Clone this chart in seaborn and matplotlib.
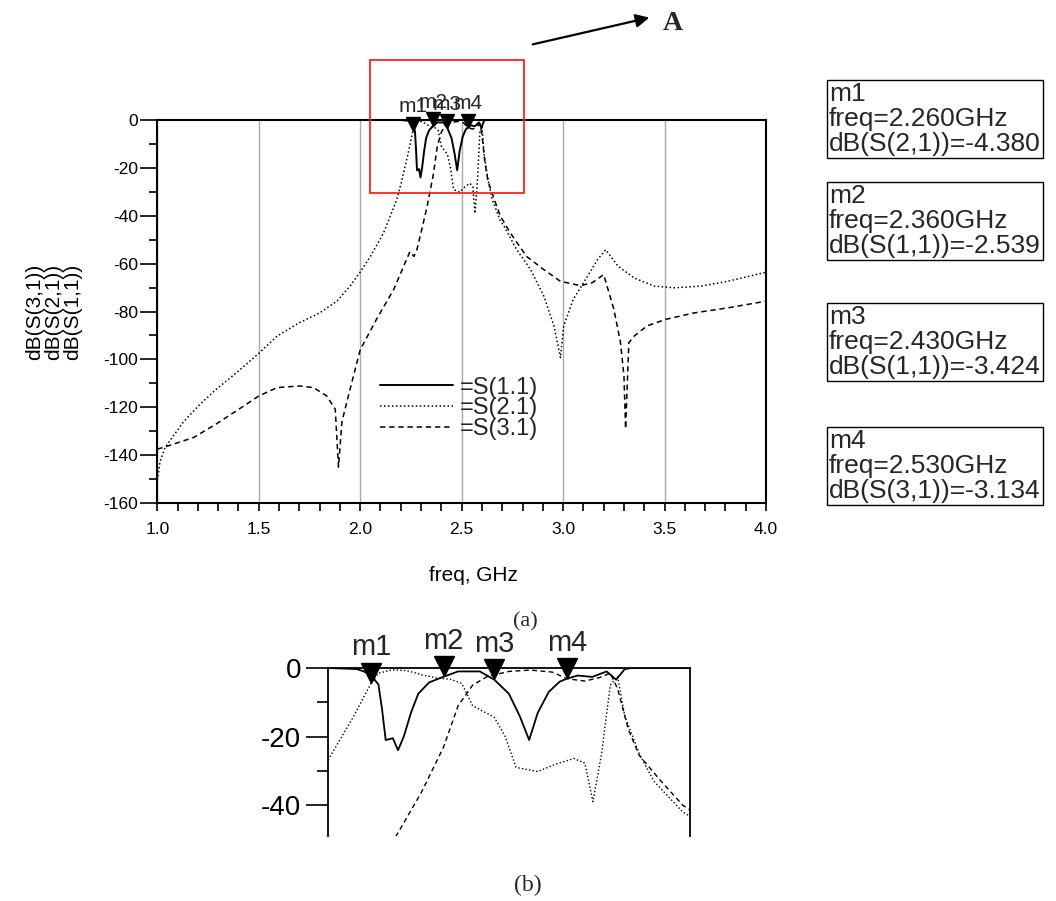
import matplotlib
matplotlib.use('Agg')
import matplotlib.pyplot as plt
import matplotlib.transforms as mtransforms
from matplotlib.patches import Rectangle
from matplotlib.ticker import MultipleLocator, FormatStrFormatter
import seaborn as sns

sns.set_theme(style="white")
plt.rcParams['font.family'] = ['Liberation Sans', 'DejaVu Sans']
plt.rcParams['axes.unicode_minus'] = False

# S(1,1) - solid
freq_s11 = [1.0, 2.20, 2.24, 2.25, 2.26, 2.27, 2.275, 2.28, 2.29, 2.297, 2.305, 2.315,
            2.325, 2.34, 2.36, 2.38, 2.41, 2.43, 2.45, 2.465, 2.478, 2.49, 2.505,
            2.52, 2.53, 2.545, 2.565, 2.585, 2.598, 2.61, 2.62, 4.0]
s11_db = [0, 0, -0.3, -1.0, -2.2, -4.8, -12, -21, -20.5, -24, -20, -13,
          -7.5, -4.2, -2.54, -1.0, -1.0, -3.42, -7.5, -14, -21, -13, -7,
          -4.0, -3.1, -2.2, -2.6, -1.0, -3.4, -0.3, 0, 0]

# S(2,1) - dotted
freq_s21 = [1.0, 1.013, 1.038, 1.13, 1.21, 1.29, 1.39, 1.50, 1.59, 1.70, 1.80, 1.885,
            1.95, 2.0, 2.05, 2.115, 2.18, 2.20, 2.235, 2.26, 2.27, 2.29, 2.31, 2.33,
            2.35, 2.37, 2.385, 2.40, 2.43, 2.445, 2.46, 2.49, 2.515, 2.54, 2.555,
            2.566, 2.578, 2.59, 2.60, 2.61, 2.63, 2.65, 2.69, 2.71, 2.77, 2.84, 2.905,
            2.955, 2.987, 3.003, 3.05, 3.12, 3.17, 3.21, 3.27, 3.35, 3.45, 3.55, 3.68,
            3.81, 4.0]
s21_db = [-150.5, -143, -136.8, -126, -118.8, -112.5, -105.6, -97.5, -90.3, -84.7, -80.6, -75.7,
          -69.4, -63.5, -57, -47.2, -33.3, -27, -14.4, -4.38, -1.5, -0.5, -0.8, -2.0,
          -2.9, -3.3, -4.5, -11, -14.4, -20, -29, -30.2, -28, -26.4, -27.8,
          -39, -25, -5, -2.5, -14, -25, -33, -42, -44.5, -54, -62.5, -73.6,
          -86, -99.3, -86, -75, -65.3, -58.3, -54.2, -61, -66, -69.4, -70.1, -69.4,
          -67.4, -63.6]

# S(3,1) - dashed
freq_s31 = [1.0, 1.04, 1.18, 1.29, 1.39, 1.50, 1.59, 1.70, 1.77, 1.835, 1.877, 1.893,
            1.91, 1.95, 2.0, 2.08, 2.165, 2.245, 2.265, 2.28, 2.30, 2.33, 2.36, 2.38,
            2.40, 2.42, 2.45, 2.48, 2.51, 2.53, 2.555, 2.575, 2.59, 2.60, 2.615, 2.63,
            2.66, 2.69, 2.74, 2.82, 2.905, 2.987, 3.02, 3.086, 3.143, 3.20, 3.25, 3.283,
            3.30, 3.308, 3.324, 3.35, 3.414, 3.505, 3.645, 3.81, 4.0]
s31_db = [-137.5, -136.5, -132.6, -127, -121.5, -115.3, -111.8, -111.1, -111.8, -115.3, -120.8, -145,
          -126, -112.5, -96, -83.3, -70.8, -55, -57, -54, -47, -36, -23, -11,
          -5, -2.5, -1.0, -0.6, -1.2, -3.13, -3.8, -2.8, -1.5, -6, -18, -25.5,
          -33, -40, -47.2, -57, -62.5, -67.4, -68, -69.2, -68, -64.6, -79, -93,
          -107, -129, -93, -90.3, -86, -83.3, -80.6, -78.5, -75.7]

# markers
marker_names = ['m1', 'm2', 'm3', 'm4']
marker_freq = [2.26, 2.36, 2.43, 2.53]
marker_db = [-4.380, -2.539, -3.424, -3.134]
marker_trace = ['dB(S(2,1))', 'dB(S(1,1))', 'dB(S(1,1))', 'dB(S(3,1))']

legend_labels = ['=S(1.1)', '=S(2.1)', '=S(3.1)']

W, H = 1056, 901
fig = plt.figure(figsize=(W / 100, H / 100), dpi=100)
fig.patch.set_facecolor('white')

dot = (0, (1, 1.6))
dash = (0, (3.5, 2.5))


def draw_traces(ax, lw, legend):
    sns.lineplot(x=freq_s11, y=s11_db, ax=ax, color='black', lw=lw + 0.3,
                 label=legend_labels[0] if legend else None, legend=legend)
    sns.lineplot(x=freq_s21, y=s21_db, ax=ax, color='black', lw=lw, linestyle=dot,
                 label=legend_labels[1] if legend else None, legend=legend)
    sns.lineplot(x=freq_s31, y=s31_db, ax=ax, color='black', lw=lw, linestyle=dash,
                 label=legend_labels[2] if legend else None, legend=legend)


def draw_markers(ax, size, fsize, gap):
    tip = mtransforms.offset_copy(ax.transData, fig=fig, y=size * 0.5, units='points')
    ax.plot(marker_freq, marker_db, 'v', color='black', ms=size, transform=tip,
            clip_on=False, zorder=5)
    lab = mtransforms.offset_copy(ax.transData, fig=fig, y=size + gap, units='points')
    for name, f, v in zip(marker_names, marker_freq, marker_db):
        ax.text(f, v, name, transform=lab, ha='center', va='bottom',
                fontsize=fsize, clip_on=False, zorder=6)


# ---------------- main plot (a) ----------------
ax = fig.add_axes([157.3 / W, 1 - 503 / H, 608.7 / W, 383 / H])
draw_traces(ax, 1.1, True)
ax.set_xlim(1.0, 4.0)
ax.set_ylim(-160, 0)
ax.xaxis.set_major_locator(MultipleLocator(0.5))
ax.xaxis.set_minor_locator(MultipleLocator(0.1))
ax.xaxis.set_major_formatter(FormatStrFormatter('%.1f'))
ax.yaxis.set_major_locator(MultipleLocator(20))
ax.yaxis.set_minor_locator(MultipleLocator(10))
ax.tick_params(axis='both', which='both', direction='out', color='black',
               labelsize=12.5, labelcolor='black', width=1.2)
ax.tick_params(axis='x', which='both', length=6, bottom=True, pad=8)
ax.tick_params(axis='y', which='major', length=12, left=True, pad=2)
ax.tick_params(axis='y', which='minor', length=6, left=True)
ax.xaxis.grid(True, which='major', color='#a9a9a9', lw=1)
ax.yaxis.grid(False)
for s in ax.spines.values():
    s.set_color('black')
    s.set_linewidth(1.5)

ax.set_xlabel('freq, GHz', fontsize=15, color='black')
ax.xaxis.set_label_coords(0.52, -0.165)
ax.set_ylabel('dB(S(3,1))\ndB(S(2,1))\ndB(S(1,1))', fontsize=15, color='black',
              linespacing=1.0)
ax.yaxis.set_label_coords(-0.124, 0.5)

draw_markers(ax, 10, 15, 0.3)

ax.legend(loc='upper left', bbox_to_anchor=(0.366, 0.33), frameon=False,
          fontsize=17, handlelength=3.1, handletextpad=0.3, labelspacing=-0.05,
          borderpad=0, borderaxespad=0)

ax.add_patch(Rectangle((2.05, -30.3), 0.755, 55.3, fill=False, edgecolor='#ff2020',
                       lw=1.3, clip_on=False, zorder=7))

ax.annotate('', xy=(652, H - 17), xytext=(530, H - 45), xycoords='figure pixels',
            textcoords='figure pixels',
            arrowprops=dict(arrowstyle='-|>', color='black', lw=1.6, mutation_scale=20))
fig.text(673 / W, 1 - 23 / H, 'A', fontfamily='Liberation Serif', fontweight='bold',
         fontsize=20, ha='center', va='center')
fig.text(525 / W, 1 - 622 / H, '(a)', fontfamily='Liberation Serif', fontsize=16,
         ha='center', va='center')

# marker readout boxes
box_tops = [80, 182, 303, 427]
for name, f, v, tr, top in zip(marker_names, marker_freq, marker_db, marker_trace, box_tops):
    txt = f'{name}\nfreq={f:.3f}GHz\n{tr}={v:.3f}'
    fig.text(829 / W, 1 - (top + 2) / H, txt, ha='left', va='top', fontsize=19,
             linespacing=1.04,
             bbox=dict(boxstyle='square,pad=0.08', fc='white', ec='black', lw=1))

# ---------------- zoomed plot (b) ----------------
ax2 = fig.add_axes([327.7 / W, 1 - 836 / H, 362.3 / W, 168 / H])
draw_traces(ax2, 1.0, False)
ax2.set_xlim(2.2, 2.7)
ax2.set_ylim(-49, 0)
ax2.set_xlabel('')
ax2.set_ylabel('')
ax2.set_xticks([])
ax2.yaxis.set_major_locator(MultipleLocator(20))
ax2.yaxis.set_minor_locator(MultipleLocator(10))
ax2.tick_params(axis='y', which='both', direction='out', color='black', width=1.2,
                labelsize=20, labelcolor='black', left=True)
ax2.tick_params(axis='y', which='major', length=16, pad=3)
ax2.tick_params(axis='y', which='minor', length=8)
ax2.spines['bottom'].set_visible(False)
for k in ['left', 'top', 'right']:
    ax2.spines[k].set_color('black')
    ax2.spines[k].set_linewidth(1.3)
draw_markers(ax2, 15, 21, 0.5)

fig.text(528 / W, 1 - 885 / H, '(b)', fontfamily='Liberation Serif', fontsize=17,
         ha='center', va='center')

fig.savefig('out.png', dpi=100, facecolor='white')
